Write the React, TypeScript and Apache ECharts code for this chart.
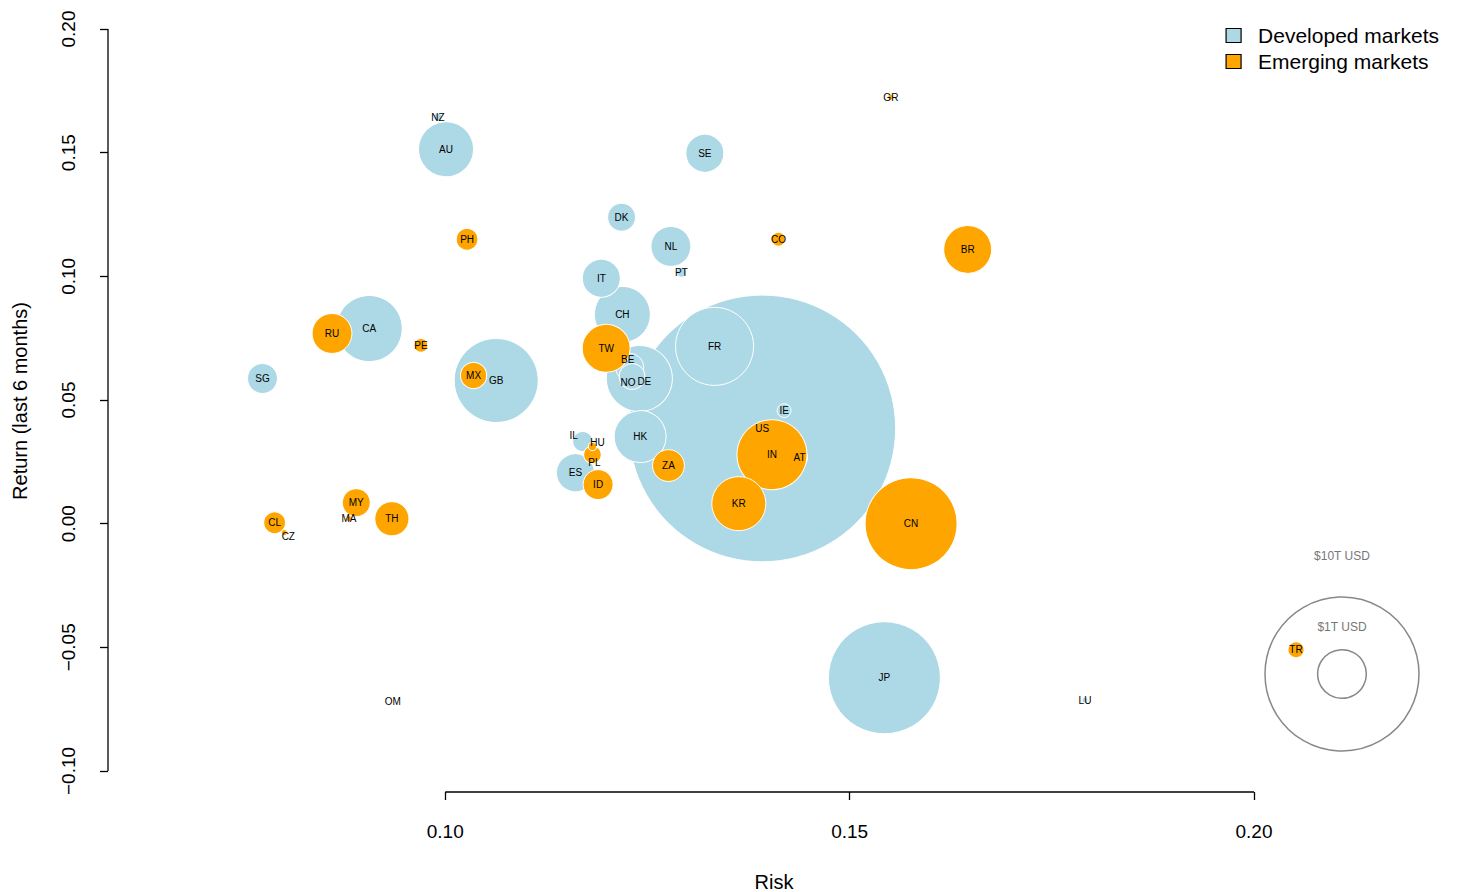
import React, { useEffect, useRef } from "react";
import * as echarts from "echarts";

// [code, risk, return, market cap (T USD)]
const developed: [string, number, number, number][] = [
  ["US", 0.1392, 0.0385, 30],
  ["JP", 0.1543, -0.0623, 5.29],
  ["GB", 0.1063, 0.0579, 2.98],
  ["FR", 0.1333, 0.0717, 2.57],
  ["CA", 0.0906, 0.0789, 1.84],
  ["DE", 0.1240, 0.0587, 1.84],
  ["CH", 0.1219, 0.0846, 1.32],
  ["AU", 0.1001, 0.1514, 1.28],
  ["HK", 0.1241, 0.0352, 1.14],
  ["NL", 0.1279, 0.1121, 0.67],
  ["SE", 0.1321, 0.1498, 0.61],
  ["IT", 0.1193, 0.0992, 0.61],
  ["ES", 0.1161, 0.0206, 0.61],
  ["SG", 0.0774, 0.0587, 0.38],
  ["DK", 0.1218, 0.1239, 0.33],
  ["BE", 0.1228, 0.0632, 0.33],
  ["NO", 0.1231, 0.0595, 0.28],
  ["IL", 0.1170, 0.0332, 0.17],
  ["AT", 0.1438, 0.0267, 0.11],
  ["IE", 0.1419, 0.0457, 0.08],
  ["PT", 0.1292, 0.1016, 0.04],
  ["NZ", 0.0991, 0.1644, 0.027],
  ["LU", 0.1791, -0.0713, 0.015],
];
const emerging: [string, number, number, number][] = [
  ["CN", 0.1576, 0.0, 3.57],
  ["IN", 0.1404, 0.0279, 2.07],
  ["KR", 0.1363, 0.0081, 1.23],
  ["BR", 0.1646, 0.1109, 0.97],
  ["TW", 0.1199, 0.0709, 0.97],
  ["RU", 0.0860, 0.0769, 0.67],
  ["TH", 0.0934, 0.0020, 0.49],
  ["ZA", 0.1276, 0.0235, 0.43],
  ["ID", 0.1189, 0.0158, 0.38],
  ["MY", 0.0890, 0.0085, 0.33],
  ["MX", 0.1035, 0.0599, 0.29],
  ["PH", 0.1027, 0.1150, 0.2],
  ["CL", 0.0789, 0.0004, 0.2],
  ["PL", 0.1182, 0.0279, 0.13],
  ["TR", 0.2052, -0.0510, 0.11],
  ["PE", 0.0970, 0.0721, 0.08],
  ["CO", 0.1412, 0.1150, 0.08],
  ["HU", 0.1182, 0.0312, 0.03],
  ["MA", 0.0881, 0.0020, 0.015],
  ["CZ", 0.0801, -0.0036, 0.015],
  ["GR", 0.1551, 0.1725, 0.015],
  ["OM", 0.0935, -0.0721, 0.0005],
];
const xTicks = [0.1, 0.15, 0.2];
const yTicks = [-0.1, -0.05, 0, 0.05, 0.1, 0.15, 0.2];
const sizeLegend = [10, 1];

const K = 48.7; // px diameter per sqrt(T USD)
const labelOffsets: Record<string, number[]> = { BE: [-2, -8], NO: [-4, 6], DE: [5, 3], IL: [-9, -6], HU: [5, -4], PL: [2, 8], CZ: [4, 4] };

function toData(arr: [string, number, number, number][]) {
  return arr.map(([n, x, y, c]) => ({
    name: n,
    value: [x, y, c],
    label: { offset: labelOffsets[n] || [0, 0] },
  }));
}

export default function App() {
  const ref = useRef<HTMLDivElement>(null);
  useEffect(() => {
    const chart = echarts.init(ref.current!, null, { renderer: "svg" });
    const font = "Liberation Sans, Arial, sans-serif";
    const seriesCommon = {
      type: "scatter" as const,
      symbolSize: (v: number[]) => K * Math.sqrt(v[2]),
      label: { show: true, formatter: "{b}", fontSize: 10, color: "#000", fontFamily: font },
      emphasis: { disabled: true },
    };
    chart.setOption({
      animation: false,
      textStyle: { fontFamily: font },
      grid: { left: 108, top: 10, right: 19, bottom: 100, containLabel: false, outerBoundsMode: "none" },
      legend: {
        top: 20, right: 15, orient: "vertical", itemGap: 5,
        itemWidth: 15, itemHeight: 14, icon: "rect",
        textStyle: { fontSize: 21, color: "#000", fontFamily: font, padding: [0, 0, 0, 12] },
        data: [
          { name: "Developed markets", itemStyle: { borderColor: "#000", borderWidth: 1.2 } },
          { name: "Emerging markets", itemStyle: { borderColor: "#000", borderWidth: 1.2 } },
        ],
      },
      xAxis: {
        type: "value", min: 0.0583, max: 0.223,
        name: "Risk", nameLocation: "middle", nameGap: 80,
        nameTextStyle: { fontSize: 20, color: "#000" },
        axisLine: { show: false, onZero: false }, splitLine: { show: false },
        axisTick: { show: true, length: 8, inside: false, customValues: xTicks, lineStyle: { color: "#000", width: 1.3 } },
        axisLabel: { customValues: xTicks, fontSize: 19, color: "#000", margin: 30, formatter: (v: number) => v.toFixed(2) },
      },
      yAxis: {
        type: "value", min: -0.1085, max: 0.2077,
        name: "Return (last 6 months)", nameLocation: "middle", nameGap: 78,
        nameTextStyle: { fontSize: 20, color: "#000" },
        axisLine: { show: false, onZero: false }, splitLine: { show: false },
        axisTick: { show: true, length: 8, customValues: yTicks, lineStyle: { color: "#000", width: 1.3 } },
        axisLabel: { customValues: yTicks, fontSize: 19, color: "#000", margin: 30, rotate: 90, formatter: (v: number) => (v < 0 ? "\u2212" + (-v).toFixed(2) : v.toFixed(2)) },
      },
      series: [
        { ...seriesCommon, name: "Developed markets", data: toData(developed),
          itemStyle: { color: "#ADD8E6", borderColor: "#fff", borderWidth: 1, opacity: 1 } },
        { ...seriesCommon, name: "Emerging markets", data: toData(emerging),
          itemStyle: { color: "#FFA500", borderColor: "#fff", borderWidth: 1, opacity: 1 } },
      ],
    });
    const px = (x: number, y: number) => chart.convertToPixel({ gridIndex: 0 }, [x, y]);
    const a = px(xTicks[0], -0.1085), b = px(xTicks[xTicks.length - 1], -0.1085);
    const c = px(0.0583, yTicks[0]), d = px(0.0583, yTicks[yTicks.length - 1]);
    const cx = 1342, cy = 674;
    chart.setOption({
      graphic: [
        { type: "line", shape: { x1: a[0], y1: a[1], x2: b[0], y2: b[1] }, style: { stroke: "#000", lineWidth: 1.3 } },
        { type: "line", shape: { x1: c[0], y1: c[1], x2: d[0], y2: d[1] }, style: { stroke: "#000", lineWidth: 1.3 } },
        ...sizeLegend.map((s) => ({
          type: "circle", shape: { cx, cy, r: (K * Math.sqrt(s)) / 2 }, z: 0,
          style: { fill: "none", stroke: "#888", lineWidth: 1.5 },
        })),
        ...sizeLegend.map((s) => ({
          type: "text", x: cx, y: cy - (K * Math.sqrt(s)) / 2 - (s >= 10 ? 118 - 77 : 47 - 24),
          style: { text: "$" + s + "T USD", fill: "#777", fontSize: 12, fontFamily: font, align: "center", verticalAlign: "middle" },
        })),
      ],
    });
    return () => chart.dispose();
  }, []);
  return <div ref={ref} style={{ position: "absolute", left: 0, top: 0, width: 1459, height: 892 }} />;
}
